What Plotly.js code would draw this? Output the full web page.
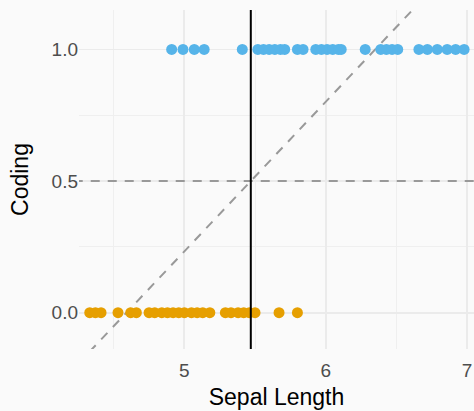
<!DOCTYPE html>
<html>
<head>
<meta charset="utf-8">
<script src="https://cdn.plot.ly/plotly-3.0.1.min.js"></script>
<style>
  html, body { margin: 0; padding: 0; background: #FAFAFA; }
  #chart { width: 474px; height: 411px; }
</style>
</head>
<body>
<div id="chart"></div>
<script>
// Sepal length of flowers coded 0 (orange) and 1 (blue)
const sepalCoded0 = [4.33, 4.37, 4.41, 4.53, 4.62, 4.66,
  4.75, 4.79, 4.84, 4.88, 4.92, 4.96, 5.00, 5.05, 5.09, 5.13, 5.18,
  5.29, 5.33, 5.38, 5.42, 5.46, 5.50, 5.67, 5.80];
const sepalCoded1 = [4.91, 4.99, 5.07, 5.14, 5.41,
  5.52, 5.56, 5.60, 5.64, 5.68, 5.71, 5.80, 5.84,
  5.93, 5.97, 6.01, 6.05, 6.09, 6.11,
  6.28, 6.39, 6.43, 6.47, 6.51,
  6.66, 6.72, 6.79, 6.86, 6.92, 6.98];
const codeValues = [0, 1];
// fitted linear model: coding = intercept + slope * sepal length
const fitSlope = 0.568;
const fitIntercept = -2.607;
const threshold = 0.5;
const cutoffX = (threshold - fitIntercept) / fitSlope;
const xTicks = [5, 6, 7];
const yTicks = [0, 0.5, 1];
const yTickText = ["0.0", "0.5", "1.0"];
const xRange = [4.254, 7.05];
const yRange = [-0.138, 1.15];

const lineX = [xRange[0] - 1, xRange[1] + 1];
const lineY = lineX.map(x => fitIntercept + fitSlope * x);

const traces = [
  {
    x: lineX, y: [threshold, threshold], mode: "lines", type: "scatter",
    line: { color: "#999999", width: 2, dash: "9px,8px" }, hoverinfo: "skip", showlegend: false
  },
  {
    x: lineX, y: lineY, mode: "lines", type: "scatter",
    line: { color: "#999999", width: 2, dash: "9px,8px" }, hoverinfo: "skip", showlegend: false
  },
  {
    x: sepalCoded0, y: sepalCoded0.map(() => codeValues[0]), mode: "markers", type: "scatter",
    marker: { color: "#E69F00", size: 11, line: { width: 0 } }, showlegend: false
  },
  {
    x: sepalCoded1, y: sepalCoded1.map(() => codeValues[1]), mode: "markers", type: "scatter",
    marker: { color: "#56B4E9", size: 11, line: { width: 0 } }, showlegend: false
  },
  {
    x: [cutoffX, cutoffX], y: [yRange[0] - 1, yRange[1] + 1], mode: "lines", type: "scatter",
    line: { color: "#000000", width: 2 }, hoverinfo: "skip", showlegend: false
  }
];

const layout = {
  width: 474, height: 411,
  margin: { l: 79, r: 0, t: 10, b: 62 },
  paper_bgcolor: "#FAFAFA", plot_bgcolor: "#FAFAFA",
  font: { family: "Liberation Sans, Arial, sans-serif" },
  showlegend: false,
  xaxis: {
    range: xRange, tickvals: xTicks, ticktext: xTicks.map(String),
    showgrid: true, gridcolor: "#EBEBEB", gridwidth: 1.8,
    minor: { dtick: 0.5, showgrid: true, gridcolor: "#EFEFEF", gridwidth: 1 },
    zeroline: false, showline: false, ticks: "", ticklen: 0,
    ticklabelstandoff: 8,
    tickfont: { size: 19, color: "#4D4D4D" },
    title: { text: "Sepal Length", font: { size: 23, color: "#000000" }, standoff: 8 }
  },
  yaxis: {
    range: yRange, tickvals: yTicks, ticktext: yTickText,
    showgrid: true, gridcolor: "#EBEBEB", gridwidth: 1.8,
    minor: { dtick: 0.25, showgrid: true, gridcolor: "#EFEFEF", gridwidth: 1 },
    zeroline: false, showline: false, ticks: "", ticklen: 0,
    tickfont: { size: 19, color: "#4D4D4D" },
    title: { text: "Coding", font: { size: 23, color: "#000000" }, standoff: 16 }
  }
};

Plotly.newPlot("chart", traces, layout, { staticPlot: true, displayModeBar: false });
</script>
</body>
</html>
